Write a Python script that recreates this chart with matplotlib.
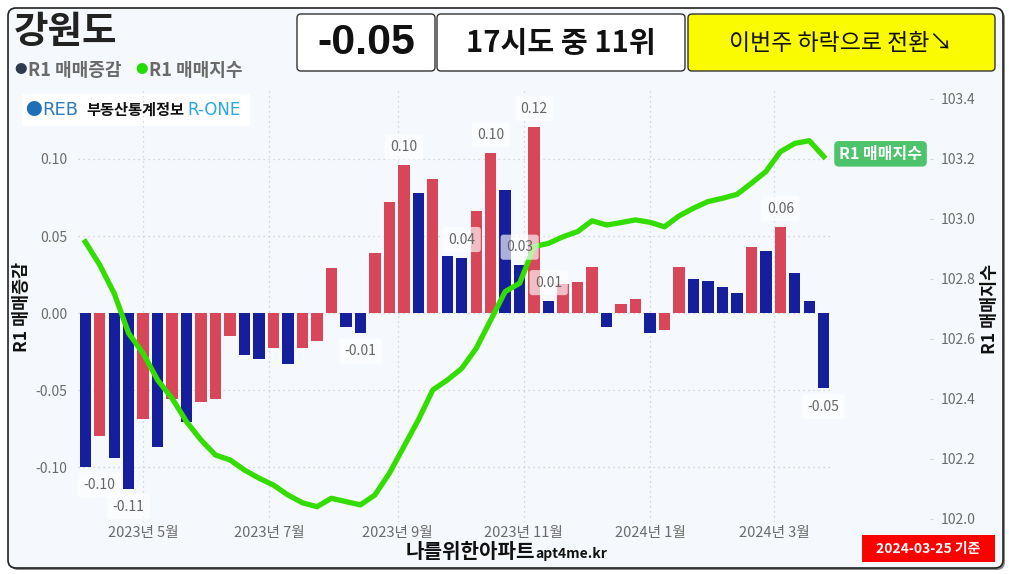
import matplotlib
matplotlib.use("Agg")
import matplotlib.pyplot as plt
import matplotlib.dates as mdates
from matplotlib.patches import FancyBboxPatch
from matplotlib.transforms import IdentityTransform
from matplotlib.ticker import FuncFormatter
import pandas as pd

plt.rcParams['font.family'] = ['Noto Sans CJK KR', 'DejaVu Sans']

W, H = 1009, 574

region = "강원도"
last_change = "-0.05"
rank_text = "17시도 중 11위"
trend_text = "이번주 하락으로 전환↘"
base_date = "2024-03-25 기준"

# weekly data (Mondays)
weeks = pd.date_range("2023-04-03", periods=52, freq="7D")

# R1 매매증감 (weekly change, %)
changes = [-0.100, -0.080, -0.094, -0.114, -0.069, -0.087, -0.056, -0.071, -0.058, -0.056,
           -0.015, -0.027, -0.030, -0.023, -0.033, -0.023, -0.018, 0.029, -0.009, -0.013,
           0.039, 0.072, 0.096, 0.078, 0.087, 0.037, 0.036, 0.066, 0.104, 0.080,
           0.031, 0.121, 0.008, 0.019, 0.020, 0.030, -0.009, 0.006, 0.009, -0.013,
           -0.011, 0.030, 0.022, 0.021, 0.017, 0.013, 0.043, 0.040, 0.056, 0.026,
           0.008, -0.049]

# R1 매매지수
index_vals = [102.924, 102.847, 102.752, 102.619, 102.552, 102.463, 102.402, 102.324, 102.263, 102.213,
              102.197, 102.163, 102.136, 102.113, 102.080, 102.054, 102.041, 102.069, 102.058, 102.047,
              102.080, 102.152, 102.241, 102.330, 102.430, 102.463, 102.502, 102.569, 102.663, 102.758,
              102.786, 102.908, 102.919, 102.941, 102.958, 102.994, 102.980, 102.988, 102.997, 102.989,
              102.974, 103.010, 103.036, 103.058, 103.069, 103.082, 103.119, 103.158, 103.224, 103.252,
              103.261, 103.208]

# bars that get a value label
labeled = [0, 3, 19, 22, 26, 28, 30, 31, 32, 48, 51]

BLUE = '#151F9B'
RED = '#D8465A'
GREEN = '#33DD00'

# red when the change went up vs. previous week
bar_colors = [BLUE] + [RED if changes[i] > changes[i - 1] else BLUE for i in range(1, len(changes))]

fig = plt.figure(figsize=(W / 100, H / 100), dpi=100)
fig.patch.set_facecolor('white')


def box(x0, y0, x1, y1, fc, ec='none', lw=1.0, r=4, z=-5):
    p = FancyBboxPatch((x0, H - y1), x1 - x0, y1 - y0,
                       boxstyle=f"round,pad=0,rounding_size={r}",
                       transform=IdentityTransform(), fc=fc, ec=ec, lw=lw, zorder=z)
    fig.add_artist(p)


def ftext(x, y, s, **kw):
    return fig.text(x / W, 1 - y / H, s, **kw)


# outer frame
box(10, 10, 1005, 570, '#8a8a8a', r=8, z=-11)
box(8, 8, 1003, 568, '#F5F8FC', ec='#222222', lw=1.2, r=8, z=-10)

# top boxes
box(297, 14, 435, 71, 'white', ec='#333333', lw=1.0, r=4)
box(437, 14, 685, 71, 'white', ec='#333333', lw=1.0, r=4)
box(688, 14, 995, 71, '#FAFA00', ec='#333333', lw=1.0, r=4)
ftext(366, 43, last_change, ha='center', va='center', fontsize=31, fontweight='bold',
      family=['Liberation Sans', 'DejaVu Sans'], color='#111111')
ftext(561, 43, rank_text, ha='center', va='center', fontsize=21, fontweight='bold', color='#111111')
ftext(841, 43, trend_text, ha='center', va='center', fontsize=16.5, color='#111111')

# title + legend
ftext(14, 32, region, ha='left', va='center', fontsize=27, fontweight='bold', color='#222222')
ftext(21, 70, "●", ha='center', va='center', fontsize=9, color='#2E3B4E')
ftext(28, 70, "R1 매매증감", ha='left', va='center', fontsize=13, fontweight='bold', color='#6a6a6a')
ftext(142, 70, "●", ha='center', va='center', fontsize=9, color='#22DD00')
ftext(149, 70, "R1 매매지수", ha='left', va='center', fontsize=13, fontweight='bold', color='#6a6a6a')

# R-ONE logo
box(22, 94, 250, 126, 'white', r=2)
ftext(33, 110, "●", ha='center', va='center', fontsize=12, color='#1E6FB8')
ftext(42, 110, "REB", ha='left', va='center', fontsize=13, color='#2A7BC0',
      family=['DejaVu Sans'])
ftext(86, 110, "부동산통계정보", ha='left', va='center', fontsize=11, fontweight='bold', color='#111111')
ftext(187, 110, "R-ONE", ha='left', va='center', fontsize=12, color='#29A8E0',
      family=['DejaVu Sans'])

# main axes
ax = fig.add_axes([78 / W, 1 - 522 / H, (831 - 78) / W, (522 - 90) / H])
ax.set_facecolor('none')
for s in ax.spines.values():
    s.set_visible(False)

ax.bar(weeks, changes, width=5.5, color=bar_colors, zorder=2)
ax.set_ylim(-0.1357, 0.1448)
ax.set_xlim(weeks[0] - pd.Timedelta(days=3.5), weeks[-1] + pd.Timedelta(days=3.5))
ax.set_yticks([-0.10, -0.05, 0.0, 0.05, 0.10])
ax.yaxis.set_major_formatter(FuncFormatter(lambda v, p: f"{v:.2f}"))
ax.xaxis.set_major_locator(mdates.MonthLocator(bymonth=[1, 3, 5, 7, 9, 11]))
ax.xaxis.set_major_formatter(FuncFormatter(
    lambda v, p: f"{mdates.num2date(v).year}년 {mdates.num2date(v).month}월"))
ax.tick_params(axis='both', length=0, labelsize=10, labelcolor='#6b6b6b')
ax.tick_params(axis='x', labelsize=10.5, pad=3)
ax.tick_params(axis='y', pad=8)
ax.grid(True, ls=(0, (1, 3)), color='#c8ced6', lw=0.9, zorder=0)
ax.set_axisbelow(True)

# index line
ax2 = ax.twinx()
for s in ax2.spines.values():
    s.set_visible(False)
ax2.plot(weeks, index_vals, color=GREEN, lw=3.8, zorder=3)
ax2.set_ylim(101.99, 103.43)
ax2.set_yticks([102.0, 102.2, 102.4, 102.6, 102.8, 103.0, 103.2, 103.4])
ax2.yaxis.set_major_formatter(FuncFormatter(lambda v, p: f"{v:.1f}"))
ax2.spines['right'].set_position(('outward', 71.3))
ax2.tick_params(axis='y', length=2, color='#d0d5db', labelsize=10, labelcolor='#6b6b6b', pad=6)

ax2.annotate("R1 매매지수", xy=(weeks[-1], index_vals[-1]), xytext=(11, 2),
             textcoords='offset points', ha='left', va='center', fontsize=11.5,
             fontweight='bold', color='white', annotation_clip=False,
             bbox=dict(boxstyle='round,pad=0.3,rounding_size=0.3', fc='#4DC46B', ec='none'))

# value labels
for i in labeled:
    v = changes[i]
    dy = 13 if v > 0 else -13
    dx = 10 if i == 0 else 0
    ax2.annotate(f"{v:.2f}", xy=(mdates.date2num(weeks[i]), v), xycoords=ax.transData,
                 xytext=(dx, dy), textcoords='offset points', ha='center', va='center',
                 fontsize=10, color='#666666', zorder=5,
                 bbox=dict(boxstyle='round,pad=0.4,rounding_size=0.2', fc='white',
                           ec='none', alpha=0.65))

# axis titles
ftext(22, 307, "R1 매매증감", rotation=90, ha='center', va='center', fontsize=12.5,
      fontweight='bold', color='#111111')
ftext(990, 309, "R1 매매지수", rotation=90, ha='center', va='center', fontsize=12.5,
      fontweight='bold', color='#111111')

# footer
ftext(535, 558, "나를위한아파트", ha='right', va='baseline', fontsize=14.5, fontweight='bold', color='#111111')
ftext(535, 558, "apt4me.kr", ha='left', va='baseline', fontsize=10, fontweight='bold', color='#111111')
box(862, 535, 995, 562, '#FF0000', r=0)
ftext(928, 549, base_date, ha='center', va='center', fontsize=10, fontweight='bold', color='white')

fig.savefig("out.png", dpi=100)
